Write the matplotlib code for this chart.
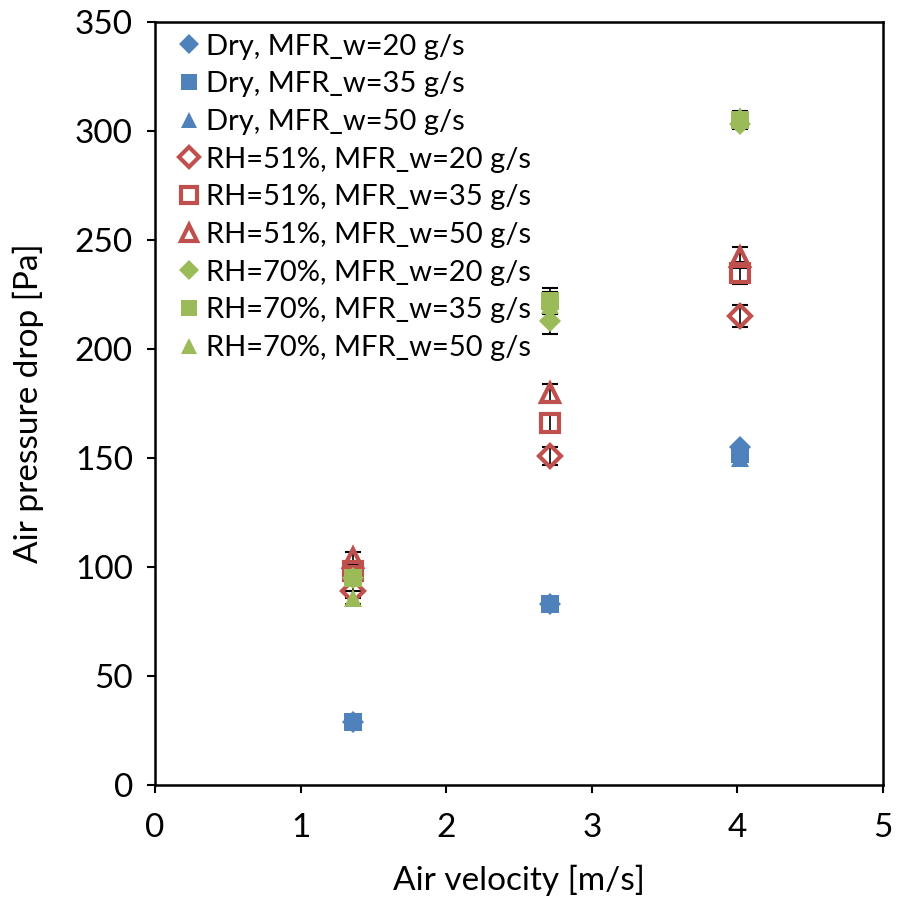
import matplotlib
matplotlib.use("Agg")
import matplotlib.pyplot as plt

plt.rcParams['font.family'] = ['Lato', 'DejaVu Sans']

# air velocity [m/s]
velocity = [1.36, 2.71, 4.02]

# pressure drop [Pa]
dry_20 = [29, 83, 155]
dry_35 = [29, 83, 152]
dry_50 = [29, 83, 150]
rh51_20 = [89, 151, 215]
rh51_35 = [98, 166, 235]
rh51_50 = [104, 180, 242]
rh70_20 = [95, 213, 303]
rh70_35 = [95, 222, 305]
rh70_50 = [86, 220, 307]

# error bars [Pa]
dry_err = [1, 1, 1]
rh51_err = [3, 4, 5]
rh70_err = [3, 6, 2]

labels = ["Dry, MFR_w=20 g/s", "Dry, MFR_w=35 g/s", "Dry, MFR_w=50 g/s",
          "RH=51%, MFR_w=20 g/s", "RH=51%, MFR_w=35 g/s", "RH=51%, MFR_w=50 g/s",
          "RH=70%, MFR_w=20 g/s", "RH=70%, MFR_w=35 g/s", "RH=70%, MFR_w=50 g/s"]

blue = "#4F81BD"
red = "#C0504D"
green = "#9BBB59"

series = [
    (dry_20, dry_err, "D", blue, True),
    (dry_35, dry_err, "s", blue, True),
    (dry_50, dry_err, "^", blue, True),
    (rh51_20, rh51_err, "D", red, False),
    (rh51_35, rh51_err, "s", red, False),
    (rh51_50, rh51_err, "^", red, False),
    (rh70_20, rh70_err, "D", green, True),
    (rh70_35, rh70_err, "s", green, True),
    (rh70_50, rh70_err, "^", green, True),
]

fig = plt.figure(figsize=(9.07, 9.07), dpi=100)
ax = fig.add_axes([0.171, 0.1345, 0.8025, 0.8412])

for (vals, err, mk, col, filled), lab in zip(series, labels):
    size = 11 if mk == "D" else 13
    ax.errorbar(velocity, vals, yerr=err, fmt="none", ecolor="black",
                elinewidth=1.2, capsize=6, capthick=1.5, zorder=2)
    if filled:
        ax.plot(velocity, vals, linestyle="none", marker=mk, markersize=size,
                color=col, markeredgewidth=0, label=lab, zorder=3)
    else:
        ax.plot(velocity, vals, linestyle="none", marker=mk, markersize=size,
                markerfacecolor="none", markeredgecolor=col, markeredgewidth=3,
                label=lab, zorder=3)

ax.set_xlim(0, 5)
ax.set_ylim(0, 350)
ax.set_xticks(range(0, 6))
ax.set_yticks(range(0, 351, 50))
ax.tick_params(axis="both", labelsize=24, direction="out", length=6, width=1.5)
ax.tick_params(axis="x", pad=14)
ax.tick_params(axis="y", pad=10)
ax.tick_params(top=False, right=False)
for sp in ax.spines.values():
    sp.set_linewidth(1.8)
    sp.set_color("black")

ax.set_xlabel("Air velocity [m/s]", fontsize=24, labelpad=16)
ax.set_ylabel("Air pressure drop [Pa]", fontsize=24, labelpad=22)

ax.legend(loc="upper left", frameon=False, fontsize=21, handletextpad=0.1,
          handlelength=1.0, labelspacing=0.4, borderaxespad=0.0,
          markerscale=0.9, bbox_to_anchor=(0.01, 1.0))

fig.savefig("out.png", dpi=100)
